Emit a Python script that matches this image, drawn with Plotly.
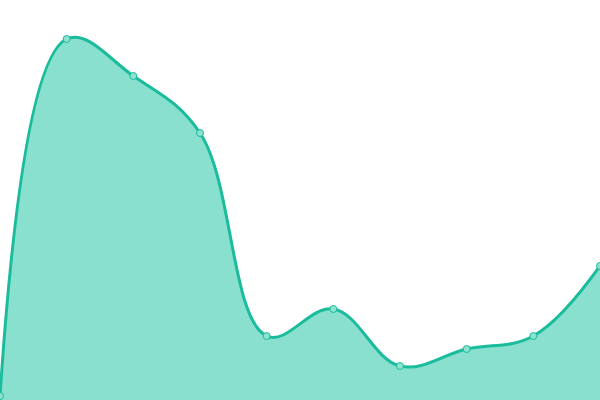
import plotly.graph_objects as go

x_vals = list(range(10))
y_vals = [4, 361, 324, 267, 64, 91, 34, 51, 64, 134]

fig = go.Figure()
fig.add_trace(go.Scatter(
    x=x_vals, y=y_vals,
    mode="lines+markers",
    line=dict(shape="spline", smoothing=1.1, color="#1abc9c", width=3),
    fill="tozeroy",
    fillcolor="#89e0cf",
    marker=dict(size=7, color="#8ee2d0", line=dict(color="#1abc9c", width=1)),
    cliponaxis=False,
    hoverinfo="skip",
))
fig.update_layout(
    width=600, height=400,
    margin=dict(l=0, r=0, t=0, b=0),
    paper_bgcolor="white", plot_bgcolor="white",
    showlegend=False,
    xaxis=dict(range=[0, 9], visible=False, fixedrange=True),
    yaxis=dict(range=[0, 400], visible=False, fixedrange=True),
)
fig.write_html(
    "out.html",
    config={"displayModeBar": False},
    post_script="document.body.style.margin='0';document.body.style.padding='0';",
)
